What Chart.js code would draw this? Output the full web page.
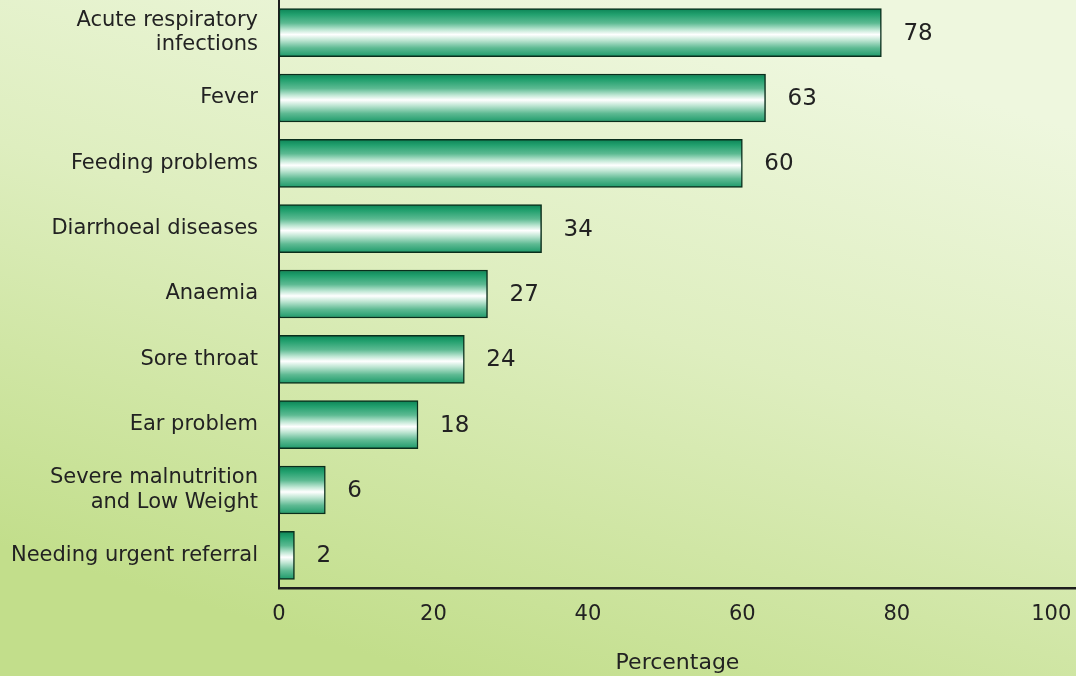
<!DOCTYPE html>
<html>
<head>
<meta charset="utf-8">
<script src="https://cdn.jsdelivr.net/npm/chart.js@4.4.0/dist/chart.umd.min.js"></script>
<style>
  html, body { margin: 0; padding: 0; background: #dcedbb; }
  canvas { display: block; }
</style>
</head>
<body>
<canvas id="myChart" width="1076" height="676"></canvas>
<script>
// data
var categories = [
    ['Acute respiratory', 'infections'],
    'Fever',
    'Feeding problems',
    'Diarrhoeal diseases',
    'Anaemia',
    'Sore throat',
    'Ear problem',
    ['Severe malnutrition', 'and Low Weight'],
    'Needing urgent referral'
];
var percentages = [78, 63, 60, 34, 27, 24, 18, 6, 2];
var xTicks = [0, 20, 40, 60, 80, 100];

var FONT = 'DejaVu Sans';
var INK = '#222222';
var BAR_H = 48;

// light green page background, darker toward the bottom
var bgPlugin = {
    id: 'bg',
    beforeDraw: function (chart) {
        var c = chart.ctx;
        var g = c.createLinearGradient(640, 0, 440, chart.height);
        g.addColorStop(0, '#eef7de');
        g.addColorStop(0.45, '#deeebf');
        g.addColorStop(1, '#c2de8b');
        c.save();
        c.fillStyle = g;
        c.fillRect(0, 0, chart.width, chart.height);
        c.restore();
    }
};

// numbers to the right of each bar
var valuePlugin = {
    id: 'values',
    afterDatasetsDraw: function (chart) {
        var c = chart.ctx;
        var meta = chart.getDatasetMeta(0);
        c.save();
        c.font = '23px "' + FONT + '"';
        c.fillStyle = INK;
        c.textAlign = 'left';
        c.textBaseline = 'middle';
        meta.data.forEach(function (bar, i) {
            c.fillText(String(percentages[i]), bar.x + 22, bar.y + 1);
        });
        c.restore();
    }
};

function barFill(context) {
    var chart = context.chart;
    var y = chart.scales.y;
    if (!y || !chart.chartArea) return '#2aa878';
    var mid = y.getPixelForValue(context.dataIndex);
    var g = chart.ctx.createLinearGradient(0, mid - BAR_H / 2, 0, mid + BAR_H / 2);
    g.addColorStop(0, '#0c8456');
    g.addColorStop(0.12, '#22a06e');
    g.addColorStop(0.3, '#5cba92');
    g.addColorStop(0.44, '#bfe7d4');
    g.addColorStop(0.54, '#ffffff');
    g.addColorStop(0.66, '#bde5d2');
    g.addColorStop(0.82, '#5eba93');
    g.addColorStop(1, '#1d9a6a');
    return g;
}

var config = {
    type: 'bar',
    data: {
        labels: categories,
        datasets: [{
            data: percentages,
            backgroundColor: barFill,
            borderColor: '#0a2e1c',
            borderWidth: 1.5,
            borderSkipped: false,
            barThickness: BAR_H
        }]
    },
    options: {
        indexAxis: 'y',
        responsive: false,
        animation: false,
        layout: { padding: 0 },
        plugins: {
            legend: { display: false },
            tooltip: { enabled: false }
        },
        scales: {
            x: {
                min: 0,
                max: 103.2,
                afterBuildTicks: function (scale) {
                    scale.ticks = xTicks.map(function (v) { return { value: v }; });
                },
                afterFit: function (scale) {
                    scale.height = 88;
                    scale.paddingLeft = 0;
                    scale.paddingRight = 0;
                },
                grid: { display: false, drawTicks: false },
                border: { display: true, color: '#1e1e1e', width: 2.5 },
                ticks: {
                    padding: 14,
                    color: INK,
                    font: { family: FONT, size: 21 }
                },
                title: {
                    display: true,
                    text: 'Percentage',
                    color: INK,
                    padding: { top: 0, bottom: 0 },
                    font: { family: FONT, size: 22 }
                }
            },
            y: {
                afterFit: function (scale) {
                    scale.width = 279;
                    scale.paddingTop = 0;
                    scale.paddingBottom = 0;
                },
                grid: { display: false, drawTicks: false },
                border: { display: true, color: '#1e1e1e', width: 2 },
                ticks: {
                    padding: 21,
                    color: INK,
                    font: { family: FONT, size: 21, lineHeight: 1.15 }
                }
            }
        }
    },
    plugins: [bgPlugin, valuePlugin]
};

const ctx = document.getElementById('myChart').getContext('2d');
const myChart = new Chart(ctx, config);
</script>
</body>
</html>
